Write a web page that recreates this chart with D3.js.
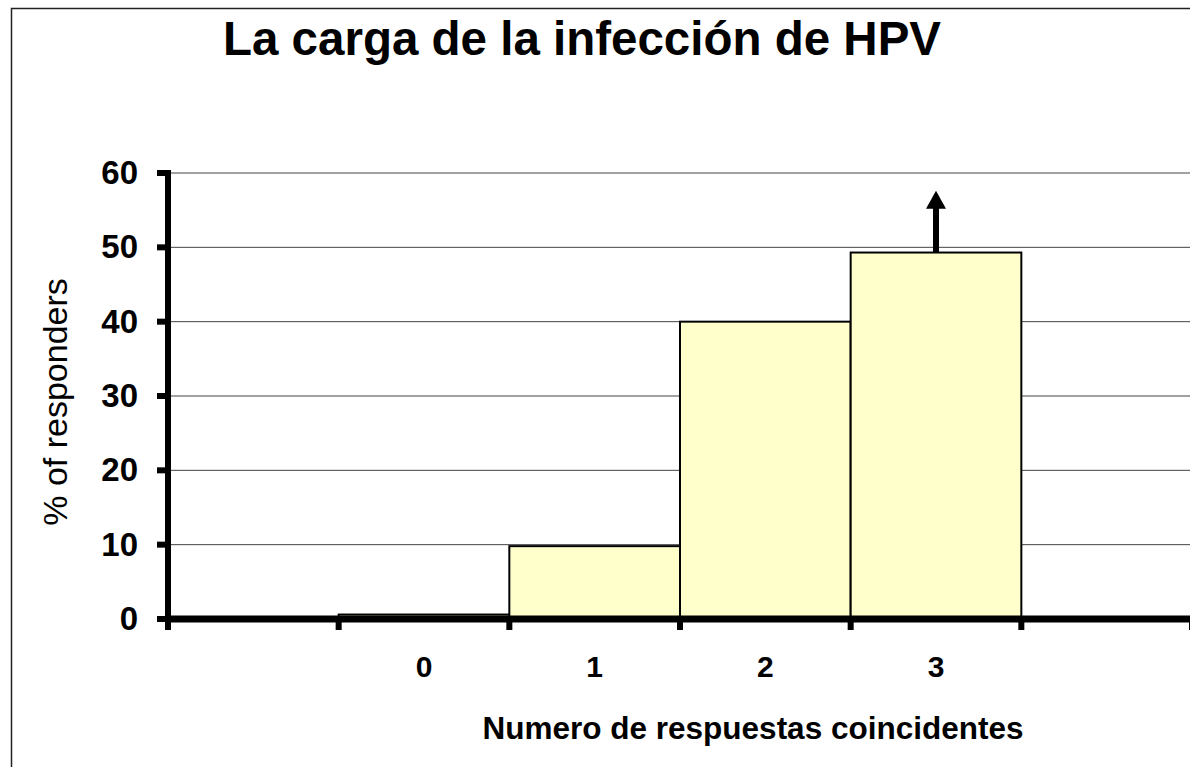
<!DOCTYPE html>
<html>
<head>
<meta charset="utf-8">
<script src="https://cdn.jsdelivr.net/npm/d3@7"></script>
<style>
  body { margin: 0; background: #fff; }
  text { font-family: "Liberation Sans", Arial, sans-serif; fill: #000; }
</style>
</head>
<body>
<div id="chart"></div>
<script>
var slots = ['', '0', '1', '2', '3', ' '];   //empty slots on either side, like the original
var categories = ['0', '1', '2', '3'];
var values = [0.6, 9.8, 40, 49.3];
var yTicks = [0, 10, 20, 30, 40, 50, 60];
var arrowTop = 57.6;   //the arrow above the last bar points past the top
var titleText = 'La carga de la infección de HPV';
var xTitle = 'Numero de respuestas coincidentes';
var yTitle = '% of responders';

var width = 1190;
var height = 767;

var svg = d3.select("#chart").append("svg")
    .attr("width", width)
    .attr("height", height);

//outer frame
svg.append("rect")
    .attr("x", 11.5)
    .attr("y", 8.5)
    .attr("width", 1200)
    .attr("height", 800)
    .attr("fill", "white")
    .attr("stroke", "#222")
    .attr("stroke-width", 1.5);

var x = d3.scaleBand()
    .domain(slots)
    .range([168, 1192])
    .padding(0);

var y = d3.scaleLinear()
    .domain([0, 60])
    .range([619, 173]);

/* gridlines */
svg.append("g").selectAll("line")
    .data(yTicks.filter(function (d) { return d > 0; }))
    .enter().append("line")
    .attr("x1", 168)
    .attr("x2", 1192)
    .attr("y1", function (d) { return y(d); })
    .attr("y2", function (d) { return y(d); })
    .attr("stroke", "#444")
    .attr("stroke-width", 1);

/* bars */
svg.append("g").selectAll("rect")
    .data(values)
    .enter().append("rect")
    .attr("x", function (d, i) { return x(categories[i]); })
    .attr("y", function (d) { return y(d); })
    .attr("width", x.bandwidth())
    .attr("height", function (d) { return y(0) - y(d); })
    .attr("fill", "#FFFFCC")
    .attr("stroke", "#000")
    .attr("stroke-width", 2);

/* arrow on the last bar */
var last = categories.length - 1;
var ax = x(categories[last]) + x.bandwidth() / 2;
svg.append("line")
    .attr("x1", ax)
    .attr("x2", ax)
    .attr("y1", y(values[last]))
    .attr("y2", y(arrowTop) + 16)
    .attr("stroke", "#000")
    .attr("stroke-width", 6);
svg.append("path")
    .attr("d", "M" + (ax - 10) + "," + (y(arrowTop) + 18) + "L" + ax + "," + y(arrowTop) + "L" + (ax + 10) + "," + (y(arrowTop) + 18) + "Z")
    .attr("fill", "#000");

/* y axis: thick line and ticks */
svg.append("line")
    .attr("x1", 168).attr("x2", 168)
    .attr("y1", y(60) - 3).attr("y2", y(0) + 3)
    .attr("stroke", "#000")
    .attr("stroke-width", 6);

svg.append("g").selectAll("line")
    .data(yTicks)
    .enter().append("line")
    .attr("x1", 157)
    .attr("x2", 168)
    .attr("y1", function (d) { return y(d); })
    .attr("y2", function (d) { return y(d); })
    .attr("stroke", "#000")
    .attr("stroke-width", 6);

svg.append("g").selectAll("text")
    .data(yTicks)
    .enter().append("text")
    .attr("x", 138)
    .attr("y", function (d) { return y(d) + 11; })
    .attr("text-anchor", "end")
    .attr("font-size", "33px")
    .attr("font-weight", "bold")
    .text(function (d) { return d; });

/* x axis: thick line and ticks at the slot edges */
svg.append("line")
    .attr("x1", 165).attr("x2", 1192)
    .attr("y1", y(0)).attr("y2", y(0))
    .attr("stroke", "#000")
    .attr("stroke-width", 7);

var edges = slots.map(function (d) { return x(d); }).concat([x.range()[1]]);
svg.append("g").selectAll("line")
    .data(edges)
    .enter().append("line")
    .attr("x1", function (d) { return d; })
    .attr("x2", function (d) { return d; })
    .attr("y1", y(0))
    .attr("y2", y(0) + 11)
    .attr("stroke", "#000")
    .attr("stroke-width", 6);

svg.append("g").selectAll("text")
    .data(categories)
    .enter().append("text")
    .attr("x", function (d) { return x(d) + x.bandwidth() / 2; })
    .attr("y", 677)
    .attr("text-anchor", "middle")
    .attr("font-size", "30px")
    .attr("font-weight", "bold")
    .text(function (d) { return d; });

/* titles */
svg.append("text")
    .attr("x", 582)
    .attr("y", 55)
    .attr("text-anchor", "middle")
    .attr("font-size", "47.5px")
    .attr("font-weight", "bold")
    .text(titleText);

svg.append("text")
    .attr("x", 753)
    .attr("y", 739)
    .attr("text-anchor", "middle")
    .attr("font-size", "31.5px")
    .attr("font-weight", "bold")
    .text(xTitle);

svg.append("text")
    .attr("transform", "translate(67,402) rotate(-90)")
    .attr("text-anchor", "middle")
    .attr("font-size", "34px")
    .text(yTitle);
</script>
</body>
</html>
